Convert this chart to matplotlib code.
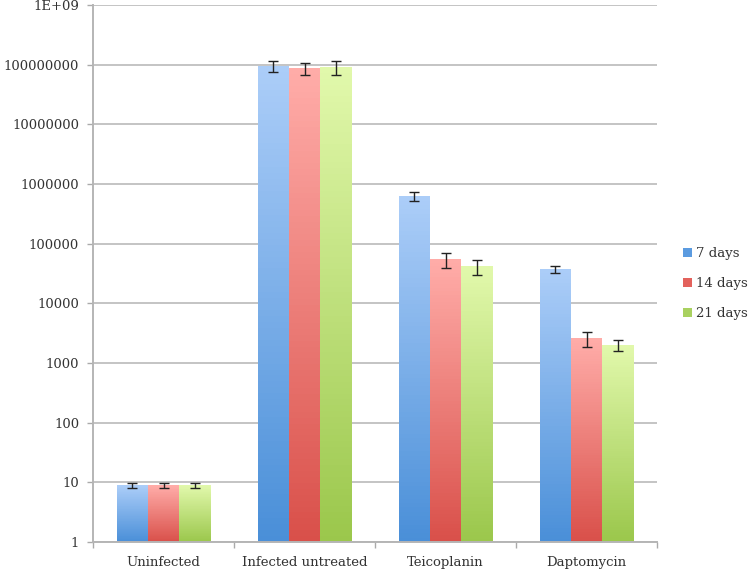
import numpy as np
import matplotlib
matplotlib.use("Agg")
import matplotlib.pyplot as plt
from matplotlib.colors import LinearSegmentedColormap
from matplotlib.patches import Patch

groups = ["Uninfected", "Infected untreated", "Teicoplanin", "Daptomycin"]
series = ["7 days", "14 days", "21 days"]
days7 = [9.0, 9.5e7, 6.25e5, 3.75e4]
days14 = [9.0, 8.8e7, 5.5e4, 2.6e3]
days21 = [9.0, 9.3e7, 4.2e4, 2.0e3]
err7 = [0.8, 2.0e7, 1.1e5, 5.5e3]
err14 = [0.8, 2.0e7, 1.6e4, 750]
err21 = [0.8, 2.5e7, 1.2e4, 400]
yticks = [1, 10, 100, 1000, 10000, 100000, 1000000, 10000000, 100000000, 1e9]
ylabels = ["1", "10", "100", "1000", "10000", "100000", "1000000",
           "10000000", "100000000", "1E+09"]

# (bottom colour, top colour, legend colour)
COLORS = [("#4a8fd8", "#abcdf8", "#5b9be0"),
          ("#d9504a", "#ffaca8", "#e3625c"),
          ("#9bc74c", "#e1f8ab", "#a9d160")]
NSEG = 80  # slices per bar for the vertical gradient

plt.rcParams.update({
    "font.family": ["DejaVu Serif"],
    "font.size": 9.5,
})

fig = plt.figure(figsize=(7.5, 5.73), dpi=100)
ax = fig.add_axes([0.124, 0.054, 0.752, 0.937])
ax.set_yscale("log")

x = np.arange(len(groups))
w = 1 / 4.5
for k, (vals, errs) in enumerate([(days7, err7), (days14, err14), (days21, err21)]):
    cmap = LinearSegmentedColormap.from_list(f"g{k}", [COLORS[k][0], COLORS[k][1]])
    xs = x + (k - 1) * w
    for xi, v in zip(xs, vals):
        edges = np.logspace(0, np.log10(v), NSEG + 1)
        cols = cmap(np.linspace(0, 1, NSEG))
        ax.bar(np.full(NSEG, xi), np.diff(edges), bottom=edges[:-1], width=w,
               color=cols, linewidth=0, antialiased=False, zorder=2)
    ax.errorbar(xs, vals, yerr=errs, fmt="none", ecolor="#222222",
                elinewidth=1.0, capsize=3.5, capthick=1.0, zorder=4)

ax.set_xlim(-0.5, len(groups) - 0.5)
ax.set_ylim(1, 1e9)
ax.set_yticks(yticks)
ax.set_yticklabels(ylabels)
ax.yaxis.set_minor_locator(matplotlib.ticker.NullLocator())
ax.set_xticks(x)
ax.set_xticklabels(groups)
ax.set_xticks(np.arange(len(groups) + 1) - 0.5, minor=True)
ax.tick_params(axis="x", which="major", length=0, pad=10, colors="#333333")
ax.tick_params(axis="x", which="minor", length=4, color="#aaaaaa", width=1)
ax.tick_params(axis="y", length=4, width=1, colors="#333333", pad=6)
ax.tick_params(axis="y", color="#aaaaaa")

ax.grid(axis="y", which="major", color="#c4c4c4", lw=1.4, zorder=0)
ax.set_axisbelow(True)
for s in ("top", "right"):
    ax.spines[s].set_visible(False)
for s in ("left", "bottom"):
    ax.spines[s].set_color("#b5b5b5")
    ax.spines[s].set_linewidth(1.4)

handles = [Patch(facecolor=c[2], edgecolor="none", label=lab)
           for c, lab in zip(COLORS, series)]
fig.legend(handles=handles, loc="center left", bbox_to_anchor=(0.895, 0.505),
           frameon=False, handlelength=0.7, handleheight=0.7,
           handletextpad=0.3, labelspacing=1.3, labelcolor="#333333")

fig.savefig("out.png", dpi=100)
